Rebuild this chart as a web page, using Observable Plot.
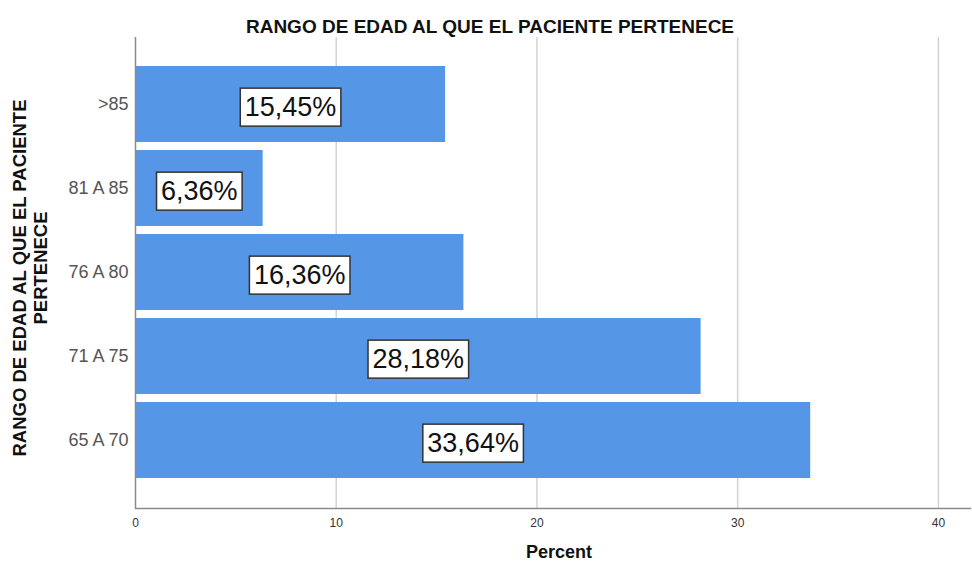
<!DOCTYPE html>
<html>
<head>
<meta charset="utf-8">
<script src="https://cdn.jsdelivr.net/npm/d3@7"></script>
<script src="https://cdn.jsdelivr.net/npm/@observablehq/plot@0.6"></script>
<style>
  html, body { margin: 0; padding: 0; background: #fff; }
  svg { font-family: "Liberation Sans", Arial, sans-serif; }
</style>
</head>
<body>
<div id="chart"></div>
<script>
const categories = [">85", "81 A 85", "76 A 80", "71 A 75", "65 A 70"];
const percents = [15.45, 6.36, 16.36, 28.18, 33.64];
const xTicks = [0, 10, 20, 30, 40];
const titleText = "RANGO DE EDAD AL QUE EL PACIENTE PERTENECE";
const yTitleLines = ["RANGO DE EDAD AL QUE EL PACIENTE", "PERTENECE"];
const xTitle = "Percent";

const data = categories.map((c, i) => ({cat: c, value: percents[i]}));
const fmt = v => v.toFixed(2).replace(".", ",") + "%";

const plot = Plot.plot({
  width: 972,
  height: 576,
  marginLeft: 135,
  marginRight: 2,
  marginTop: 37,
  marginBottom: 68,
  style: {fontFamily: '"Liberation Sans", Arial, sans-serif', background: "#fff"},
  x: {domain: [0, 41.6], ticks: xTicks, label: null},
  y: {domain: categories, range: [55.5, 489], padding: 0.1, label: null},
  marks: [
    Plot.ruleX(xTicks.slice(1), {stroke: "#d4d4d4", strokeWidth: 1.5}),
    Plot.barX(data, {x: "value", y: "cat", fill: "#5596e6"}),
    Plot.ruleX([0], {stroke: "#8a8a8a", strokeWidth: 1.5}),
    Plot.frame({anchor: "bottom", stroke: "#8a8a8a", strokeWidth: 1.5}),
    Plot.axisX({ticks: xTicks, tickSize: 0, tickPadding: 10, fontSize: 12, fill: "#333", label: null}),
    Plot.axisY({tickSize: 0, tickPadding: 7, fontSize: 18, fill: "#555", label: null}),
    Plot.text(data, {
      x: d => d.value / 2, y: "cat", text: d => fmt(d.value),
      fontSize: 27, fill: "#111", dy: 3, className: "vlabel"
    }),
    Plot.text([titleText], {frameAnchor: "top", dx: -63, dy: -18, fontSize: 19, fontWeight: "bold", fill: "#111"}),
    Plot.text([xTitle], {frameAnchor: "bottom", dx: 6, dy: 49, fontSize: 18, fontWeight: "bold", fill: "#111"}),
    Plot.text([yTitleLines[0]], {frameAnchor: "left", textAnchor: "middle", rotate: -90, dx: -115, dy: 5, fontSize: 18.5, fontWeight: "bold", fill: "#111"}),
    Plot.text([yTitleLines[1]], {frameAnchor: "left", textAnchor: "middle", rotate: -90, dx: -94, dy: -5, fontSize: 18.5, fontWeight: "bold", fill: "#111"})
  ]
});

document.getElementById("chart").appendChild(plot);

// white boxes behind value labels
d3.select(plot).selectAll(".vlabel text").each(function() {
  const t = this;
  const b = t.getBBox();
  const padX = 4.5, padY = 4;
  const r = document.createElementNS("http://www.w3.org/2000/svg", "rect");
  r.setAttribute("x", b.x - padX);
  r.setAttribute("y", b.y - padY);
  r.setAttribute("width", b.width + 2 * padX);
  r.setAttribute("height", b.height + 2 * padY);
  r.setAttribute("fill", "#fff");
  r.setAttribute("stroke", "#333");
  r.setAttribute("stroke-width", "1.5");
  const tr = t.getAttribute("transform");
  if (tr) r.setAttribute("transform", tr);
  t.parentNode.insertBefore(r, t);
});
</script>
</body>
</html>
